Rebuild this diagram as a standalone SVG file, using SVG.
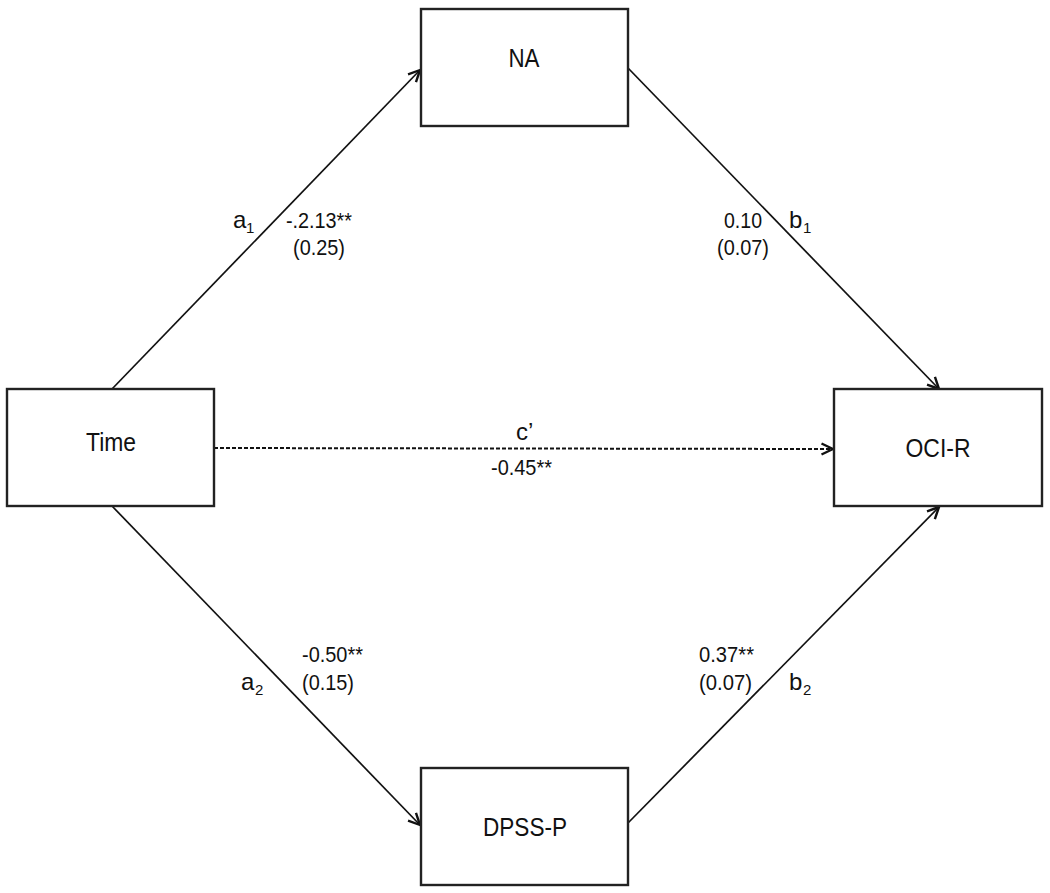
<svg xmlns="http://www.w3.org/2000/svg" width="1050" height="893" viewBox="0 0 1050 893">
<style>
.box{fill:#fff;stroke:#222;stroke-width:2.4}
.lbl{font-family:"Liberation Sans",Arial,sans-serif;font-size:26px;fill:#111;text-anchor:middle}
.el{font-family:"Liberation Sans",Arial,sans-serif;font-size:22px;fill:#111}
.var{font-family:"Liberation Sans",Arial,sans-serif;font-size:24px;fill:#111}
.sub{font-family:"Liberation Sans",Arial,sans-serif;font-size:15px;fill:#111}
.conn{stroke:#111;stroke-width:1.7;fill:none}
.dash{stroke:#111;stroke-width:2;fill:none;stroke-dasharray:4 2}
</style>
<defs>
<marker id="arr" viewBox="0 0 14 14" refX="13" refY="7" markerWidth="14" markerHeight="14" markerUnits="userSpaceOnUse" orient="auto">
<path d="M1.5,1.5 L13,7 L1.5,12.5" fill="none" stroke="#111" stroke-width="2.4" stroke-linejoin="round"/>
</marker>
</defs>
<rect width="1050" height="893" fill="#fff"/>
<g id="connectors">
<line class="conn" x1="112" y1="389" x2="420" y2="70" marker-end="url(#arr)"/>
<line class="conn" x1="628" y1="68" x2="939" y2="389" marker-end="url(#arr)"/>
<line class="conn" x1="112" y1="506" x2="420" y2="825" marker-end="url(#arr)"/>
<line class="conn" x1="628" y1="823" x2="939" y2="507" marker-end="url(#arr)"/>
<line class="dash" x1="214" y1="448" x2="833" y2="449" marker-end="url(#arr)"/>
</g>
<g id="edge-labels">
<text class="var" x="233" y="228">a</text><text class="sub" x="246" y="233">1</text>
<text class="el" x="286" y="228" textLength="66" lengthAdjust="spacingAndGlyphs">-.2.13**</text>
<text class="el" x="293" y="255" textLength="52" lengthAdjust="spacingAndGlyphs">(0.25)</text>
<text class="el" x="724" y="228" textLength="38" lengthAdjust="spacingAndGlyphs">0.10</text>
<text class="el" x="717" y="255" textLength="52" lengthAdjust="spacingAndGlyphs">(0.07)</text>
<text class="var" x="789" y="228">b</text><text class="sub" x="803" y="233">1</text>
<text class="var" x="516" y="440">c’</text>
<text class="el" x="491" y="475" textLength="61" lengthAdjust="spacingAndGlyphs">-0.45**</text>
<text class="el" x="302" y="662" textLength="61" lengthAdjust="spacingAndGlyphs">-0.50**</text>
<text class="el" x="302" y="690" textLength="52" lengthAdjust="spacingAndGlyphs">(0.15)</text>
<text class="var" x="241" y="690">a</text><text class="sub" x="255" y="695">2</text>
<text class="el" x="699" y="662" textLength="55" lengthAdjust="spacingAndGlyphs">0.37**</text>
<text class="el" x="699" y="690" textLength="53" lengthAdjust="spacingAndGlyphs">(0.07)</text>
<text class="var" x="789" y="690">b</text><text class="sub" x="803" y="695">2</text>
</g>
<g id="node-NA">
<rect class="box" x="421" y="9" width="207" height="117"/>
<text class="lbl" x="524" y="67" textLength="31" lengthAdjust="spacingAndGlyphs">NA</text>
</g>
<g id="node-Time">
<rect class="box" x="7" y="389" width="207" height="117"/>
<text class="lbl" x="111" y="451" textLength="50" lengthAdjust="spacingAndGlyphs">Time</text>
</g>
<g id="node-OCIR">
<rect class="box" x="834" y="389" width="208" height="117"/>
<text class="lbl" x="938" y="457" textLength="65" lengthAdjust="spacingAndGlyphs">OCI-R</text>
</g>
<g id="node-DPSSP">
<rect class="box" x="421" y="768" width="207" height="117"/>
<text class="lbl" x="525" y="836" textLength="84" lengthAdjust="spacingAndGlyphs">DPSS-P</text>
</g>
</svg>
